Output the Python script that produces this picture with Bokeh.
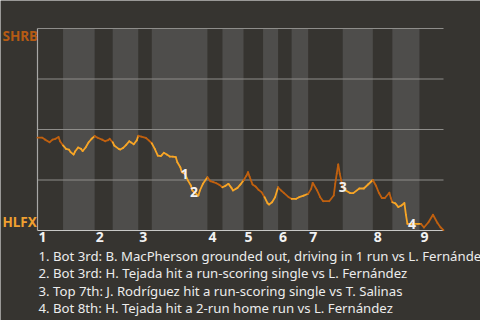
from bisect import bisect_right
from bokeh.plotting import figure
from bokeh.models import Range1d
from bokeh.core.properties import value
from bokeh.embed import file_html
from bokeh.resources import INLINE

# ---- data -------------------------------------------------------------
events = [0, 3, 5, 8, 10, 12, 14, 15,
          17, 19, 21, 22, 24, 25, 27, 29, 30, 32, 34, 36, 38,
          40, 43, 45, 47, 48, 50,
          51, 54, 55, 57, 59, 61, 62, 64, 66, 67,
          69, 72, 74, 76,
          78, 80, 82, 83, 84, 86, 88, 90, 92, 93, 95, 96, 98, 100, 102, 103, 104, 107, 108, 110, 113,
          115, 117, 119, 121, 123,
          125, 127, 129, 130, 133, 135, 137,
          139, 140, 141, 143, 145, 147, 149,
          151, 153, 154, 156, 158, 160,
          162, 164, 167, 169,
          172, 174, 177, 180,
          182, 183, 186, 188, 190, 194, 197, 198, 199, 200, 201, 202, 203,
          205, 208, 210, 214, 217, 220, 223,
          225, 227, 229, 231, 234, 235, 236,
          238, 240, 242, 244, 245, 246, 249, 253,
          255, 257, 260, 263, 266, 268, 270]
shrb_wp = [46.0, 46.0, 45.0, 43.7, 45.0, 45.4, 46.3, 44.2,
           42.1, 40.4, 40.0, 38.8, 37.6, 39.1, 41.1, 40.4, 39.3, 41.1, 43.7, 45.4, 46.7,
           45.9, 45.0, 44.2, 44.7, 45.4, 43.7,
           42.1, 40.4, 40.1, 40.9, 42.4, 44.2, 43.7, 42.7, 44.6, 46.9,
           46.5, 45.9, 44.6, 43.2,
           40.4, 37.1, 36.8, 37.6, 38.5, 37.6, 36.6, 36.6, 36.3, 33.8, 31.3, 28.9, 28.1, 24.8, 22.3, 19.8, 19.0, 17.3, 19.8, 23.1, 26.4,
           24.4, 23.9, 23.4, 22.6, 21.4,
           22.1, 23.1, 21.1, 19.8, 21.1, 22.8, 24.8,
           27.2, 28.9, 26.7, 22.8, 21.8, 20.1, 19.0,
           16.5, 13.5, 12.9, 14.0, 16.5, 21.4,
           19.8, 18.5, 16.5, 15.7,
           15.7, 16.5, 17.3, 18.2,
           20.6, 23.6, 19.8, 16.5, 14.5, 14.5, 17.3, 23.1, 28.1, 32.7, 28.1, 24.8, 21.4,
           19.8, 18.5, 18.5, 20.8, 20.8, 22.9, 25.0,
           22.3, 18.7, 16.1, 16.1, 18.7, 16.0, 14.0,
           13.4, 11.6, 12.4, 13.6, 7.9, 3.3, 3.3, 3.3,
           3.3, 1.5, 4.1, 7.8, 3.7, 1.6, 0.2]
half_starts = [0, 17, 38, 50, 67, 76, 113, 123, 137, 150, 160, 169, 180, 203, 223, 236, 254]
game_end = 270
innings = ["1", "2", "3", "4", "5", "6", "7", "8", "9"]
grid_values = [25, 50, 75, 100]
teams = ["SHRB", "HLFX"]
note_marks = ["1", "2", "3", "4"]
note_events = [98, 104, 203, 249]
notes = [
    "1. Bot 3rd: B. MacPherson grounded out, driving in 1 run vs L. Fern\u00e1ndez",
    "2. Bot 3rd: H. Tejada hit a run-scoring single vs L. Fern\u00e1ndez",
    "3. Top 7th: J. Rodr\u00edguez hit a run-scoring single vs T. Salinas",
    "4. Bot 8th: H. Tejada hit a 2-run home run vs L. Fern\u00e1ndez",
]

# ---- style / layout ---------------------------------------------------
BG = "#363430"
BAND = "#4e4d4b"
GRID = "#8e8d8a"
DARK = "#c0600f"
LIGHT = "#f7a526"
FONT = "Noto Sans"
W, H = 480, 320
LEFT, TOP, PW, PH = 37, 28, 406, 202          # plotting area in pixels
XPP = game_end / PW                            # data units per pixel (x)
YPP = 100 / PH                                 # data units per pixel (y)


def px_x(px):   # canvas pixel -> data x (for text placement)
    return (px - LEFT) * XPP


def px_y(py):   # canvas pixel -> data y (for text placement)
    return (TOP + PH - py) * YPP


p = figure(width=W, height=H, output_backend="svg", toolbar_location=None,
           x_range=Range1d(px_x(0), px_x(W)), y_range=Range1d(px_y(H), px_y(0)),
           x_axis_location=None, y_axis_location=None,
           min_border=0, title=None)
p.background_fill_color = BG
p.border_fill_color = BG
p.outline_line_color = None
p.grid.visible = False

# bottom-half bands
p.quad(left=half_starts[1::2], right=half_starts[2::2], bottom=0, top=100,
       fill_color=BAND, line_color=None)

# gridlines and axis lines
p.segment(x0=[0] * len(grid_values), y0=grid_values, x1=[game_end] * len(grid_values),
          y1=grid_values, line_color=GRID, line_width=1)
p.segment(x0=[0], y0=[0], x1=[game_end], y1=[0], line_color="#c8c8c6", line_width=1.2)
p.segment(x0=[0], y0=[0], x1=[0], y1=[100], line_color="#a8a8a6", line_width=1.2)

# win probability line, coloured by half-inning
x0, y0, x1, y1, cols = [], [], [], [], []
for i in range(len(events) - 1):
    half = bisect_right(half_starts, events[i]) - 1
    x0.append(events[i]); y0.append(shrb_wp[i])
    x1.append(events[i + 1]); y1.append(shrb_wp[i + 1])
    cols.append(DARK if half % 2 == 0 else LIGHT)
p.segment(x0=x0, y0=y0, x1=x1, y1=y1, line_color=cols, line_width=1.8,
          line_cap="round", line_join="round")

# note markers on the line
mark_y = [shrb_wp[events.index(e)] for e in note_events]
p.text(x=note_events, y=mark_y, text=note_marks, text_align="center",
       text_baseline="middle", text_color="#f2f2f2", text_font=value(FONT),
       text_font_style="bold", text_font_size="14px")

# inning numbers below the plot
inning_starts = half_starts[0::2]
p.text(x=[s + XPP for s in inning_starts], y=[px_y(TOP + PH + 1.5)] * len(inning_starts),
       text=innings, text_align="left", text_baseline="top", text_color="#f2f2f2",
       text_font=value(FONT), text_font_style="bold", text_font_size="14px")

# team labels
p.text(x=[px_x(2), px_x(2)], y=[px_y(35.5), px_y(221)], text=teams,
       text_align="left", text_baseline="middle", text_color=["#b55b14", "#f0a030"],
       text_font=value(FONT), text_font_style="bold", text_font_size="13.5px")

# footnotes
p.text(x=[px_x(38)] * len(notes), y=[px_y(255 + k * 17.6) for k in range(len(notes))],
       text=notes, text_align="left", text_baseline="middle", text_color="#ececec",
       text_font=value(FONT), text_font_size="13.2px")

open("out.html", "w").write(file_html(p, INLINE))
